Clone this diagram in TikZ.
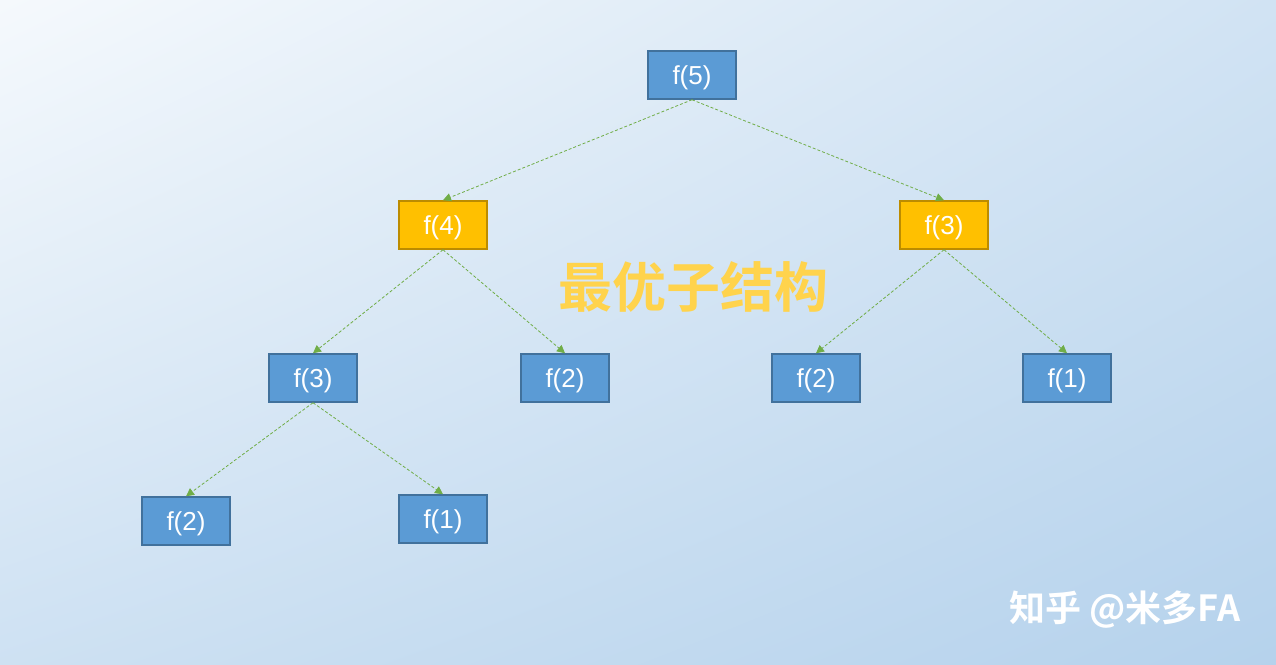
\documentclass[tikz,border=0pt]{standalone}
\usepackage{fontspec}
\setmainfont{Liberation Sans}
\newfontfamily\cjk{Noto Sans CJK SC}[BoldFont=* Bold]
\usetikzlibrary{arrows.meta,shadings}
\definecolor{bl}{HTML}{5B9BD5}
\definecolor{bld}{HTML}{41719C}
\definecolor{yl}{HTML}{FFC000}
\definecolor{yld}{HTML}{BC8C00}
\definecolor{gr}{HTML}{70AD47}
\tikzset{
 bx/.style={draw=bld,line width=1.5pt,fill=bl,minimum width=88pt,minimum height=48pt,inner sep=0pt,text=white,font=\fontsize{26}{28}\selectfont,text depth=-3pt},
 yb/.style={bx,fill=yl,draw=yld},
 ed/.style={draw=gr,dashed,line width=0.8pt,dash pattern=on 3pt off 2pt,-{Triangle[length=8pt,width=8pt]}}
}
\begin{document}
\begin{tikzpicture}[x=1pt,y=-1pt]
\shade[upper left=white!80!bl!30,lower right=bl!45,upper right=bl!28,lower left=bl!30] (0,0) rectangle (1276,664);
\useasboundingbox (0,0) rectangle (1276,664);
\node[bx] (a) at (692,75) {f(5)};
\node[yb] (b) at (443,225) {f(4)};
\node[yb] (c) at (944,225) {f(3)};
\node[bx] (d) at (313,378) {f(3)};
\node[bx] (e) at (565,378) {f(2)};
\node[bx] (f) at (816,378) {f(2)};
\node[bx] (g) at (1067,378) {f(1)};
\node[bx] (h) at (186,521) {f(2)};
\node[bx] (i) at (443,519) {f(1)};
\draw[ed] (a.south) -- (b.north);
\draw[ed] (a.south) -- (c.north);
\draw[ed] (b.south) -- (d.north);
\draw[ed] (b.south) -- (e.north);
\draw[ed] (c.south) -- (f.north);
\draw[ed] (c.south) -- (g.north);
\draw[ed] (d.south) -- (h.north);
\draw[ed] (d.south) -- (i.north);
\node[font=\cjk\bfseries\fontsize{54}{56}\selectfont,text=yl!70!white] (t) at (693,287) {最优子结构};
\node[font=\cjk\bfseries\fontsize{36}{38}\selectfont,text=white,anchor=east] (w) at (1244,610) {知乎 @米多FA};
\end{tikzpicture}
\end{document}
